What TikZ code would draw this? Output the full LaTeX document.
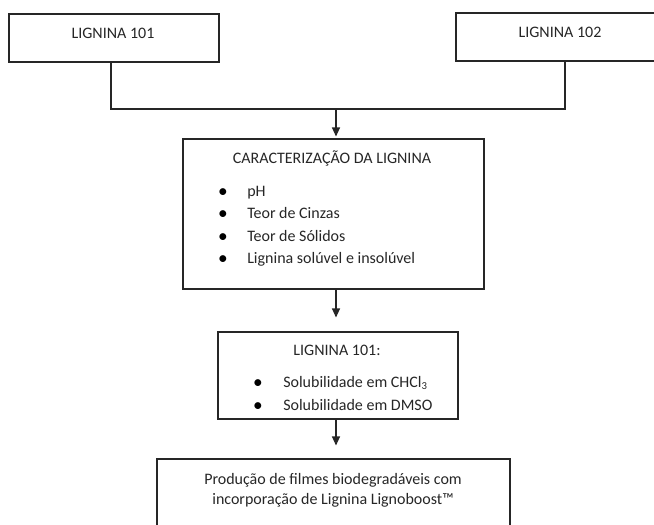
\documentclass[tikz,border=0pt]{standalone}
\usepackage{fontspec}
\setmainfont{Carlito}
\usetikzlibrary{arrows.meta,calc}
\begin{document}
\begin{tikzpicture}[x=0.75pt,y=-0.75pt,
  box/.style={draw=black!85,line width=0.8pt,rectangle,inner sep=0pt},
  txt/.style={inner sep=0pt,anchor=base,font=\fontsize{12}{14}\selectfont,text=black!85},
  ltxt/.style={txt,anchor=base west},
  bul/.style={txt,font=\fontsize{14.5}{14}\selectfont,text=black},
  conn/.style={draw=black!85,line width=0.8pt},
  arr/.style={conn,-{Triangle[length=6.75pt,width=6pt]}}]
\useasboundingbox (0,0) rectangle (654,525);
\clip (0,0) rectangle (654,525);
% boxes
\node[box,minimum width=210*0.75pt,minimum height=48*0.75pt] (b101) at (114,38) {};
\node[box,minimum width=210*0.75pt,minimum height=48*0.75pt] (b102) at (561,37) {};
\node[box,minimum width=301*0.75pt,minimum height=150*0.75pt] (car) at (333.5,214) {};
\node[box,minimum width=240*0.75pt,minimum height=87*0.75pt] (l101) at (338,375.5) {};
\node[box,minimum width=353*0.75pt,minimum height=90*0.75pt] (fin) at (333.5,504) {};
% texts
\node[txt] (t101) at (113,38) {LIGNINA 101};
\node[txt] (t102) at (560,37) {LIGNINA 102};
\node[txt] (tcar) at (332,163) {CARACTERIZAÇÃO DA LIGNINA};
\foreach \yy/\tt [count=\i] in {196.5/pH,218.5/Teor de Cinzas,241/Teor de Sólidos,263/Lignina solúvel e insolúvel}{
  \node[bul] (cb\i) at (223,\yy+1) {\textbullet};
  \node[ltxt] (ci\i) at (247,\yy) {\tt};
}
\node[txt] (tl101) at (337,355) {LIGNINA 101:};
\node[bul] (lb1) at (258,388) {\textbullet};
\node[ltxt] (li1) at (283,387) {Solubilidade em CHCl\textsubscript{3}};
\node[bul] (lb2) at (258,411) {\textbullet};
\node[ltxt] (li2) at (283,410) {Solubilidade em DMSO};
\node[txt] (tf1) at (333,484) {Produção de filmes biodegradáveis com};
\node[txt] (tf2) at (333,504) {incorporação de Lignina Lignoboost™};
% connectors
\coordinate (la) at (111,0);
\coordinate (lb) at (565,0);
\coordinate (ax) at (336,0);
\coordinate (j) at (336,109);
\draw[conn] (b101.south -| la) |- (j) -| (b102.south -| lb);
\draw[arr,shorten >=1.5pt] (j) -- (car.north -| ax);
\draw[arr,shorten >=10.5pt] (car.south -| ax) -- (l101.north -| ax);
\draw[arr,shorten >=9.75pt] (l101.south -| ax) -- (fin.north -| ax);
\end{tikzpicture}
\end{document}
